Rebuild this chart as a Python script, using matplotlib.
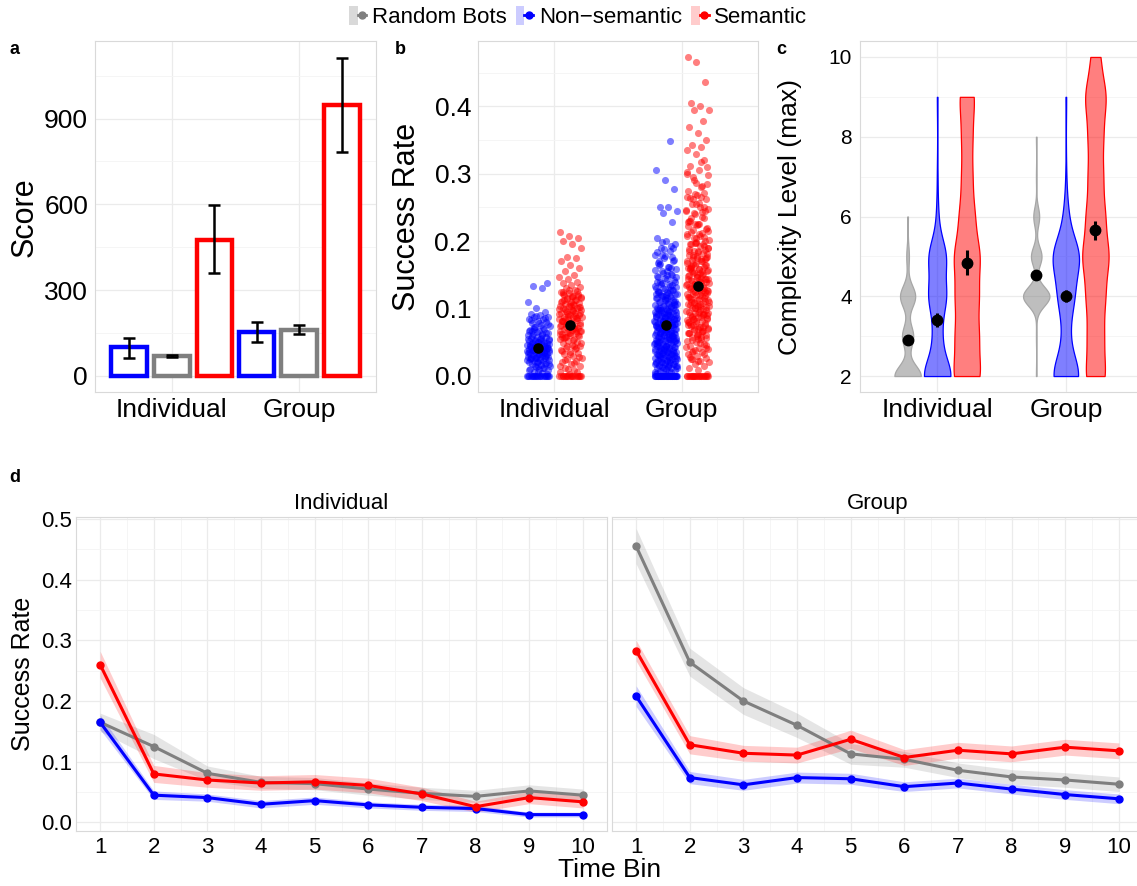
import numpy as np
import matplotlib
matplotlib.use("Agg")
import matplotlib.pyplot as plt
from matplotlib.patches import Patch
from matplotlib.lines import Line2D
from matplotlib.legend_handler import HandlerTuple
from matplotlib.ticker import FixedLocator

plt.rcParams['font.family'] = ['Liberation Sans', 'DejaVu Sans']

# ---------------- data ----------------
conditions = ["Random Bots", "Non\u2212semantic", "Semantic"]
groups = ["Individual", "Group"]
col_random = "#7F7F7F"
col_nonsem = "#0000FF"
col_sem = "#FF0000"

# panel a: score (bars, order Non-semantic, Random, Semantic)
score_nonsem = [102, 154]
score_nonsem_lo = [64, 118]
score_nonsem_hi = [133, 187]
score_random = [69, 162]
score_random_lo = [66, 146]
score_random_hi = [73, 177]
score_sem = [477, 949]
score_sem_lo = [359, 783]
score_sem_hi = [596, 1113]

# panel b: success rate per player (x1000)
b_ind_nonsem = [0,0,0,0,0,0,0,0,0,0,0,0,0,0,0,0,0,0,0,0,
    4,6,8,10,10,12,13,15,16,18,19,20,21,22,22,24,25,26,27,28,28,30,31,32,33,33,
    34,35,36,36,37,38,39,40,40,41,42,42,43,44,45,46,47,48,49,50,51,52,53,54,55,
    56,57,58,60,61,62,64,66,68,70,72,74,76,78,80,82,84,85,87,88,90,92,95,100,
    110,130,133,138,15,25,35,45,38,42,48,30,20,55,62,70,28,33,44,18,26,37,52,66,
    3,5,9,11,14,17,23,26,29,31,34,37,39,41,43,46,48,51,53,56,59,63,65,67,71,73,
    77,79,83,86,89,24,32,38,44,50,36,41,27,47]
b_ind_sem = [0,0,0,0,0,0,0,0,0,0,0,0,0,0,0,0,0,0,
    3,6,9,12,15,18,20,22,25,27,30,32,34,36,38,40,42,44,46,48,50,52,54,55,57,59,
    60,62,63,65,66,68,70,71,72,74,75,77,78,80,81,83,84,85,87,88,90,91,93,94,95,
    97,98,100,101,103,104,105,107,108,110,111,113,115,116,118,120,121,123,125,
    127,130,132,135,138,140,143,146,150,155,160,165,170,175,176,190,195,200,205,
    208,213,45,58,67,73,82,86,92,99,106,112,119,64,76,89,96,102,117,122,
    5,10,14,19,24,28,33,37,41,45,49,53,56,61,64,67,69,73,76,79,82,86,89,92,96,
    99,102,106,109,112,114,117,119,124,126,128,62,71,84,93,104,57,66,78,88,97]
b_grp_nonsem = [0,0,0,0,0,0,0,0,0,0,0,0,0,0,0,0,0,0,0,0,0,0,0,0,0,0,0,0,0,0,
    0,0,0,0,0,0,0,0,0,0,
    3,5,7,8,10,11,12,13,14,15,16,17,18,19,20,21,22,23,24,25,26,27,28,29,30,31,
    32,33,34,35,36,37,38,39,40,41,42,43,44,45,46,47,48,49,50,51,52,53,54,55,56,
    57,58,59,60,61,62,63,64,65,66,67,68,69,70,71,72,73,74,75,76,77,78,79,80,81,
    82,83,84,85,86,87,88,89,90,91,92,93,94,95,96,97,98,99,100,102,104,106,108,
    110,112,114,116,118,120,122,124,126,128,130,133,136,139,142,145,148,151,155,
    158,162,165,170,175,180,185,190,195,200,205,228,242,245,250,250,278,290,305,
    348,20,30,40,50,60,70,80,90,100,110,120,140,160,180,25,35,45,55,65,75,85,95,
    105,115,125,135,33,47,58,63,77,88,92,104,118,132,150,170,190,12,18,27,38,52,
    2,4,6,9,11,13,15,17,19,21,23,25,27,29,31,33,35,37,39,41,43,45,47,49,51,53,55,
    57,59,61,63,65,67,69,71,73,75,77,79,81,83,85,87,89,91,93,95,97,99,101,103,105,
    107,109,111,113,115,117,119,121,123,125,127,129,131,134,137,140,143,146,149,
    153,157,161,166,172,178,184,192,198,14,22,31,36,42,48,54,58,62,68,72,76,82,86,
    94,98,107,113,121,128,138,147,156,168,176,188,6,16,26,34,44,52,64,74,84,96]
b_grp_sem = [0,0,0,0,0,0,0,0,0,0,0,0,0,0,0,0,0,0,0,0,0,0,
    3,8,12,15,18,20,22,25,27,30,32,35,37,40,42,45,47,50,52,55,57,60,62,64,66,68,
    70,72,74,76,78,80,82,84,86,88,90,92,94,96,98,100,102,104,106,108,110,112,114,
    116,118,120,122,124,126,128,130,132,134,136,138,140,142,144,146,148,150,152,
    155,158,160,162,165,168,170,172,175,178,180,183,186,190,193,196,200,204,208,
    212,216,220,225,230,235,240,245,250,255,262,268,275,282,290,298,305,312,320,
    330,335,340,342,350,360,370,378,395,395,400,405,436,466,473,
    65,75,85,95,105,115,125,135,145,155,165,175,185,195,205,215,225,235,245,255,
    265,280,295,310,70,80,90,100,110,120,130,140,150,160,170,180,190,210,230,250,
    270,300,58,88,97,103,117,127,137,143,153,163,187,197,222,243,262,285,
    22,28,33,38,43,48,53,56,61,63,67,69,71,73,77,79,81,83,87,89,91,93,95,99,101,
    103,107,109,111,113,117,119,121,123,127,129,131,133,137,139,141,143,147,149,
    151,154,157,159,161,164,167,171,174,177,181,184,188,192,197,202,207,214,218,
    224,229,236,242,248,256,264,272,286,302,318,36,46,54,64,72,84,94,104,114,124,
    134,144,156,166,176,186,196,206,226,246,266,25,41,59,76,92,108,126,142,158,
    174,199,211]
b_mean_nonsem = [0.042, 0.076]
b_mean_sem = [0.076, 0.134]

# panel c: counts of max complexity level per player
levels = [2, 3, 4, 5, 6, 7, 8, 9, 10]
c_ind_random = [40, 17, 23, 4, 1, 0, 0, 0, 0]
c_ind_nonsem = [40, 12, 25, 25, 3, 1, 0, 1, 0]
c_ind_sem = [18, 15, 15, 17, 10, 7, 7, 10, 0]
c_grp_random = [1, 1, 45, 18, 10, 1, 1, 0, 0]
c_grp_nonsem = [34, 8, 20, 34, 6, 1, 0, 1, 0]
c_grp_sem = [15, 12, 14, 20, 14, 11, 11, 16, 7]
c_mean_random = [2.90, 4.54]
c_lo_random = [2.86, 4.50]
c_hi_random = [2.94, 4.58]
c_mean_nonsem = [3.40, 4.01]
c_lo_nonsem = [3.23, 3.86]
c_hi_nonsem = [3.57, 4.15]
c_mean_sem = [4.84, 5.65]
c_lo_sem = [4.53, 5.40]
c_hi_sem = [5.15, 5.88]

# panel d: success rate over time bins
time_bins = [1, 2, 3, 4, 5, 6, 7, 8, 9, 10]
d_ind_random = [0.165, 0.125, 0.081, 0.066, 0.064, 0.055, 0.048, 0.043, 0.052, 0.045]
d_ind_random_ci = [0.015, 0.020, 0.012, 0.010, 0.010, 0.010, 0.010, 0.010, 0.010, 0.010]
d_ind_nonsem = [0.165, 0.045, 0.041, 0.030, 0.036, 0.029, 0.025, 0.023, 0.013, 0.013]
d_ind_nonsem_ci = [0.012, 0.007, 0.006, 0.006, 0.006, 0.005, 0.005, 0.005, 0.004, 0.004]
d_ind_sem = [0.260, 0.080, 0.070, 0.065, 0.067, 0.061, 0.047, 0.026, 0.041, 0.034]
d_ind_sem_ci = [0.022, 0.014, 0.012, 0.012, 0.012, 0.012, 0.011, 0.009, 0.010, 0.010]
d_grp_random = [0.455, 0.264, 0.200, 0.160, 0.113, 0.104, 0.086, 0.075, 0.070, 0.063]
d_grp_random_ci = [0.029, 0.023, 0.022, 0.020, 0.017, 0.013, 0.012, 0.012, 0.012, 0.012]
d_grp_nonsem = [0.208, 0.074, 0.062, 0.074, 0.072, 0.059, 0.065, 0.055, 0.046, 0.039]
d_grp_nonsem_ci = [0.017, 0.010, 0.009, 0.009, 0.009, 0.008, 0.008, 0.008, 0.008, 0.008]
d_grp_sem = [0.283, 0.128, 0.114, 0.111, 0.137, 0.107, 0.119, 0.113, 0.124, 0.118]
d_grp_sem_ci = [0.017, 0.015, 0.013, 0.013, 0.015, 0.013, 0.013, 0.013, 0.013, 0.013]

# ---------------- figure ----------------
W, H = 1137, 886
fig = plt.figure(figsize=(W / 100, H / 100), dpi=100)


def ax_px(l, t, r, b):
    return fig.add_axes([l / W, 1 - b / H, (r - l) / W, (b - t) / H])


def style(ax, ytick_size=19, xtick_size=19, ypad=5, xpad=4):
    ax.set_axisbelow(True)
    for s in ax.spines.values():
        s.set_color("#D9D9D9")
        s.set_linewidth(0.8)
    ax.tick_params(which="both", length=0)
    ax.tick_params(axis="y", labelsize=ytick_size, pad=ypad)
    ax.tick_params(axis="x", labelsize=xtick_size, pad=xpad)
    ax.grid(which="major", color="#EBEBEB", lw=0.9)
    ax.grid(which="minor", color="#F4F4F4", lw=0.6)


def ftext(x, y, s, **kw):
    fig.text(x / W, 1 - y / H, s, **kw)


xg = np.array([1, 2])

# ---- panel a ----
ax = ax_px(95, 41, 376, 392)
style(ax)
bw = 0.28
for off, vals, lo, hi, c in [(-0.335, score_nonsem, score_nonsem_lo, score_nonsem_hi, col_nonsem),
                             (0.0, score_random, score_random_lo, score_random_hi, col_random),
                             (0.335, score_sem, score_sem_lo, score_sem_hi, col_sem)]:
    ax.bar(xg + off, vals, width=bw, facecolor="white", edgecolor=c, linewidth=3.2, zorder=2)
    v = np.array(vals)
    ax.errorbar(xg + off, v, yerr=[v - np.array(lo), np.array(hi) - v], fmt="none",
                ecolor="black", elinewidth=1.8, capsize=4.5, capthick=1.8, zorder=3)
ax.set_xlim(0.4, 2.6)
ax.set_ylim(-56, 1171)
ax.set_xticks(xg)
ax.set_xticklabels(groups)
ax.yaxis.set_major_locator(FixedLocator([0, 300, 600, 900]))
ax.yaxis.set_minor_locator(FixedLocator([150, 450, 750, 1050]))
ftext(25, 217, "Score", rotation=90, ha="center", va="center", fontsize=22)
ftext(15, 50, "a", ha="center", va="center", fontsize=13, fontweight="bold")

# ---- panel b ----
ax = ax_px(478, 41, 758, 392)
style(ax)


def jitter(n, width):
    i = np.arange(n)
    return ((i * 0.6180339887 + 0.31) % 1.0 - 0.5) * 2 * width


for gi, (vn, vs) in enumerate([(b_ind_nonsem, b_ind_sem), (b_grp_nonsem, b_grp_sem)]):
    for off, vals, c in [(-0.125, vn, col_nonsem), (0.125, vs, col_sem)]:
        y = np.array(vals) / 1000.0
        ax.scatter(xg[gi] + off + jitter(len(y), 0.09), y, s=26, color=c, alpha=0.5,
                   linewidths=0, zorder=2)
ax.scatter(xg - 0.125, b_mean_nonsem, s=58, color="black", zorder=4, linewidths=0)
ax.scatter(xg + 0.125, b_mean_sem, s=58, color="black", zorder=4, linewidths=0)
ax.set_xlim(0.4, 2.6)
ax.set_ylim(-0.024, 0.497)
ax.set_xticks(xg)
ax.set_xticklabels(groups)
ax.yaxis.set_major_locator(FixedLocator([0, 0.1, 0.2, 0.3, 0.4]))
ax.yaxis.set_minor_locator(FixedLocator([0.05, 0.15, 0.25, 0.35, 0.45]))
ax.set_yticklabels(["0.0", "0.1", "0.2", "0.3", "0.4"])
ftext(407, 217, "Success Rate", rotation=90, ha="center", va="center", fontsize=22)
ftext(400, 50, "b", ha="center", va="center", fontsize=13, fontweight="bold")

# ---- panel c ----
ax = ax_px(860, 41, 1143, 392)
style(ax, ytick_size=15, ypad=6)

# (group index, offset, counts, fill, edge, kernel bandwidth)
viol = [(0, -0.23, c_ind_random, col_random, "#A6A6A6", 0.27),
        (0, 0.0, c_ind_nonsem, col_nonsem, col_nonsem, 0.45),
        (0, 0.23, c_ind_sem, col_sem, col_sem, 0.5),
        (1, -0.23, c_grp_random, col_random, "#A6A6A6", 0.24),
        (1, 0.0, c_grp_nonsem, col_nonsem, col_nonsem, 0.5),
        (1, 0.23, c_grp_sem, col_sem, col_sem, 0.5)]
for gi, off, counts, fc, ec, kbw in viol:
    data = np.repeat(np.array(levels, float), counts)
    factor = kbw / data.std(ddof=1)
    parts = ax.violinplot([data], positions=[xg[gi] + off], widths=0.205, showextrema=False,
                          bw_method=factor, points=300)
    for body in parts["bodies"]:
        body.set_alpha(None)
        body.set_facecolor(matplotlib.colors.to_rgba(fc, 0.5))
        body.set_edgecolor(ec)
        body.set_linewidth(0.9)
        body.set_zorder(2)
for off, m, lo, hi in [(-0.23, c_mean_random, c_lo_random, c_hi_random),
                       (0.0, c_mean_nonsem, c_lo_nonsem, c_hi_nonsem),
                       (0.23, c_mean_sem, c_lo_sem, c_hi_sem)]:
    m = np.array(m)
    ax.errorbar(xg + off, m, yerr=[m - np.array(lo), np.array(hi) - m], fmt="o",
                color="black", ms=7.5, elinewidth=2.2, capsize=0, zorder=4)
ax.set_xlim(0.4, 2.6)
ax.set_ylim(1.6, 10.4)
ax.set_xticks(xg)
ax.set_xticklabels(groups)
ax.yaxis.set_major_locator(FixedLocator([2, 4, 6, 8, 10]))
ax.yaxis.set_minor_locator(FixedLocator([3, 5, 7, 9]))
ftext(790, 217, "Complexity Level (max)", rotation=90, ha="center", va="center", fontsize=19)
ftext(781, 50, "c", ha="center", va="center", fontsize=13, fontweight="bold")

# ---- panel d ----
series_d = [
    [(d_ind_random, d_ind_random_ci, col_random),
     (d_ind_nonsem, d_ind_nonsem_ci, col_nonsem),
     (d_ind_sem, d_ind_sem_ci, col_sem)],
    [(d_grp_random, d_grp_random_ci, col_random),
     (d_grp_nonsem, d_grp_nonsem_ci, col_nonsem),
     (d_grp_sem, d_grp_sem_ci, col_sem)],
]
for k, (l, r) in enumerate([(76, 607), (612, 1143)]):
    ax = ax_px(l, 517, r, 831)
    style(ax, ytick_size=16, xtick_size=16, ypad=3, xpad=4)
    t = np.array(time_bins)
    for vals, ci, c in series_d[k]:
        v = np.array(vals)
        e = np.array(ci)
        ax.fill_between(t, v - e, v + e, color=c, alpha=0.2, linewidth=0, zorder=2)
    for vals, ci, c in series_d[k]:
        ax.plot(t, vals, color=c, lw=2.2, marker="o", ms=5, zorder=3)
    ax.set_xlim(0.55, 10.45)
    ax.set_ylim(-0.014, 0.503)
    ax.xaxis.set_major_locator(FixedLocator(time_bins))
    ax.xaxis.set_minor_locator(FixedLocator(np.arange(1.5, 10, 1.0)))
    ax.yaxis.set_major_locator(FixedLocator([0, 0.1, 0.2, 0.3, 0.4, 0.5]))
    ax.yaxis.set_minor_locator(FixedLocator([0.05, 0.15, 0.25, 0.35, 0.45]))
    if k == 0:
        ax.set_yticklabels(["0.0", "0.1", "0.2", "0.3", "0.4", "0.5"])
    else:
        ax.set_yticklabels([])
    ax.set_title(groups[k], fontsize=16, pad=6)
ftext(23, 674, "Success Rate", rotation=90, ha="center", va="center", fontsize=18)
ftext(610, 870, "Time Bin", ha="center", va="center", fontsize=19)
ftext(15, 478, "d", ha="center", va="center", fontsize=13, fontweight="bold")

# ---- legend ----
handles = [
    (Patch(facecolor="#D9D9D9", edgecolor="none"),
     Line2D([], [], color=col_random, lw=2, marker="o", ms=5)),
    (Patch(facecolor="#CCCCFF", edgecolor="none"),
     Line2D([], [], color=col_nonsem, lw=2, marker="o", ms=5)),
    (Patch(facecolor="#FFCCCC", edgecolor="none"),
     Line2D([], [], color=col_sem, lw=2, marker="o", ms=5)),
]
fig.legend(handles, conditions, handler_map={tuple: HandlerTuple(ndivide=None)},
           loc="center", bbox_to_anchor=(578 / W, 1 - 17 / H), ncol=3, frameon=False,
           fontsize=16, handlelength=0.8, handleheight=0.9, handletextpad=0.25,
           columnspacing=0.4, borderaxespad=0, borderpad=0)

fig.savefig("out.png", dpi=100)
